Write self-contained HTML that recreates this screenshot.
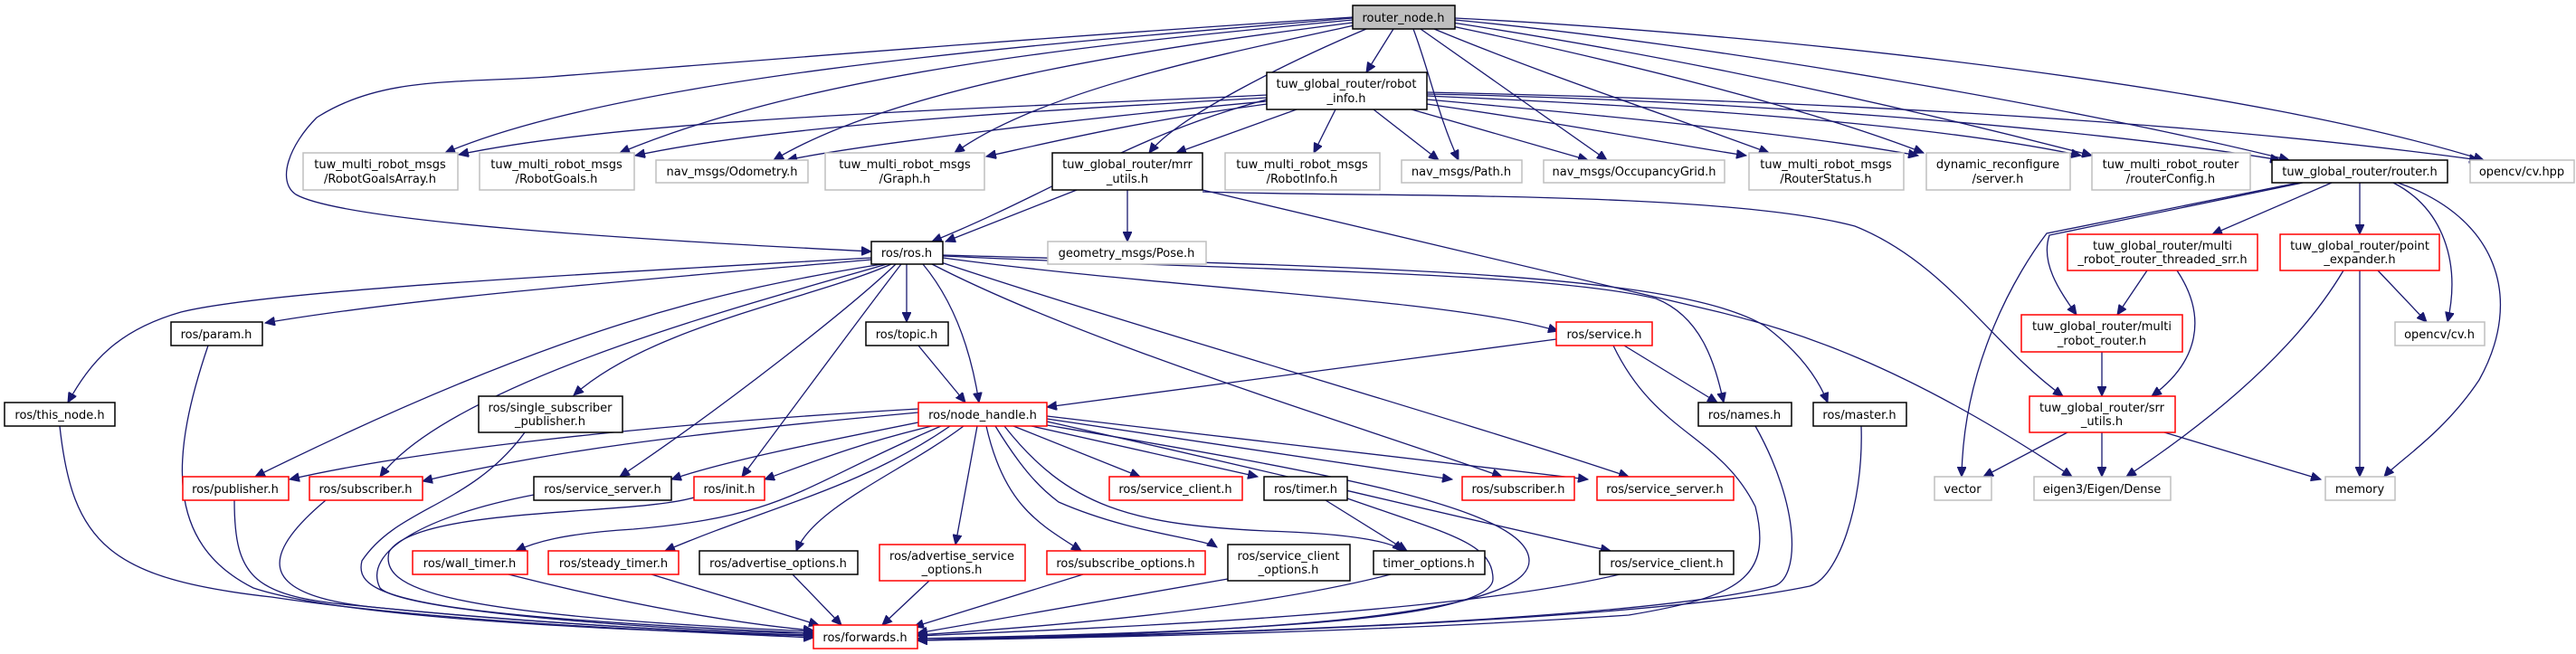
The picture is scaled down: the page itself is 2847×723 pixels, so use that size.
<!DOCTYPE html>
<html><head><meta charset="utf-8"><style>
html,body{margin:0;padding:0;background:#fff;}
svg{display:block;}
.e path{fill:none;stroke:#191970;stroke-width:1.3;}
text{font-family:"DejaVu Sans","Liberation Sans",sans-serif;font-size:13px;fill:#000;text-anchor:middle;}
.g{fill:#fff;stroke:#bfbfbf;stroke-width:1.5;}
.b{fill:#fff;stroke:#000;stroke-width:1.5;}
.r{fill:#fff;stroke:#ff0000;stroke-width:1.5;}
</style></head><body>
<svg width="2847" height="723" xmlns="http://www.w3.org/2000/svg">
<defs><marker id="a" markerUnits="userSpaceOnUse" markerWidth="12" markerHeight="10" refX="11" refY="5" orient="auto"><path d="M0,0 L11,5 L0,10 z" fill="#191970" stroke="#191970"/></marker></defs>
<g class="e">
<path marker-end="url(#a)" d="M1540,32 L1510,80"/>
<path marker-end="url(#a)" d="M1510,32 C1420,70 1300,130 1270,169"/>
<path marker-end="url(#a)" d="M1495,20 C1200,45 700,80 492,169"/>
<path marker-end="url(#a)" d="M1495,22 C1200,50 900,80 685,169"/>
<path marker-end="url(#a)" d="M1495,25 C1300,50 1000,90 855,177"/>
<path marker-end="url(#a)" d="M1497,28 C1350,60 1150,100 1055,169"/>
<path marker-end="url(#a)" d="M1495,19 C1100,45 800,70 606,85 C500,92 420,85 350,130 C320,160 305,200 327,215 C380,245 700,265 963,278"/>
<path marker-end="url(#a)" d="M1562,32 C1580,80 1590,130 1612,177"/>
<path marker-end="url(#a)" d="M1570,32 L1776,177"/>
<path marker-end="url(#a)" d="M1585,32 C1700,80 1850,130 1955,169"/>
<path marker-end="url(#a)" d="M1600,28 C1800,70 2000,120 2126,169"/>
<path marker-end="url(#a)" d="M1605,25 C1900,70 2150,130 2312,172"/>
<path marker-end="url(#a)" d="M1608,22 C1900,50 2300,120 2530,177"/>
<path marker-end="url(#a)" d="M1608,20 C2000,40 2500,100 2745,177"/>
<path marker-end="url(#a)" d="M1400,105 C1100,120 700,130 507,171"/>
<path marker-end="url(#a)" d="M1400,108 C1100,125 850,140 702,172"/>
<path marker-end="url(#a)" d="M1400,112 C1200,130 950,160 870,177"/>
<path marker-end="url(#a)" d="M1400,115 C1250,135 1150,160 1090,173"/>
<path marker-end="url(#a)" d="M1433,121 L1300,169"/>
<path marker-end="url(#a)" d="M1476,121 L1452,169"/>
<path marker-end="url(#a)" d="M1518,121 L1590,177"/>
<path marker-end="url(#a)" d="M1560,121 L1755,177"/>
<path marker-end="url(#a)" d="M1577,115 C1750,140 1850,160 1930,172"/>
<path marker-end="url(#a)" d="M1577,110 C1800,130 2000,150 2120,172"/>
<path marker-end="url(#a)" d="M1577,106 C1900,120 2150,140 2300,172"/>
<path marker-end="url(#a)" d="M1577,104 C1900,110 2300,140 2520,177"/>
<path marker-end="url(#a)" d="M1577,102 C1950,110 2400,130 2740,177"/>
<path marker-end="url(#a)" d="M1400,110 C1250,150 1170,210 1030,267"/>
<path marker-end="url(#a)" d="M1190,210 L1045,267"/>
<path marker-end="url(#a)" d="M1246,210 L1246,267"/>
<path marker-end="url(#a)" d="M1329,210 L1900,345 C1980,365 2100,400 2290,527"/>
<path marker-end="url(#a)" d="M1329,212 C1500,218 1900,210 2050,250 C2150,290 2200,380 2280,438"/>
<path marker-end="url(#a)" d="M2540,202 L2262,258 C2230,300 2170,400 2168,527"/>
<path marker-end="url(#a)" d="M2545,202 L2265,260 C2255,290 2275,320 2295,348"/>
<path marker-end="url(#a)" d="M2577,202 L2445,259"/>
<path marker-end="url(#a)" d="M2608,202 L2608,259"/>
<path marker-end="url(#a)" d="M2645,202 C2700,230 2720,290 2705,356"/>
<path marker-end="url(#a)" d="M2650,202 C2760,240 2790,330 2740,420 C2700,480 2650,510 2635,527"/>
<path marker-end="url(#a)" d="M2373,299 L2340,348"/>
<path marker-end="url(#a)" d="M2406,299 C2440,350 2430,400 2378,438"/>
<path marker-end="url(#a)" d="M2323,389 L2323,438"/>
<path marker-end="url(#a)" d="M2590,299 C2530,400 2420,480 2350,527"/>
<path marker-end="url(#a)" d="M2608,299 L2608,527"/>
<path marker-end="url(#a)" d="M2628,299 L2682,356"/>
<path marker-end="url(#a)" d="M2285,478 L2192,527"/>
<path marker-end="url(#a)" d="M2323,478 L2323,527"/>
<path marker-end="url(#a)" d="M2392,478 L2565,530"/>
<path marker-end="url(#a)" d="M963,285 C700,300 300,320 200,345 C130,365 100,400 75,445"/>
<path marker-end="url(#a)" d="M963,287 C700,310 450,330 293,357"/>
<path marker-end="url(#a)" d="M975,292 C800,320 620,360 282,527"/>
<path marker-end="url(#a)" d="M980,292 C850,330 500,420 420,527"/>
<path marker-end="url(#a)" d="M985,292 C900,330 720,360 634,437"/>
<path marker-end="url(#a)" d="M990,292 C940,340 800,450 685,527"/>
<path marker-end="url(#a)" d="M996,292 C955,345 900,420 820,527"/>
<path marker-end="url(#a)" d="M1002,292 L1002,356"/>
<path marker-end="url(#a)" d="M1020,292 C1060,340 1075,400 1082,445"/>
<path marker-end="url(#a)" d="M1042,285 C1300,320 1600,330 1722,366"/>
<path marker-end="url(#a)" d="M1030,292 C1200,380 1500,470 1660,527"/>
<path marker-end="url(#a)" d="M1040,290 C1250,360 1600,460 1800,527"/>
<path marker-end="url(#a)" d="M1042,283 C1400,300 1700,300 1830,330 C1880,350 1895,400 1905,445"/>
<path marker-end="url(#a)" d="M1042,282 C1500,295 1850,300 1950,360 C1990,390 2010,420 2020,445"/>
<path marker-end="url(#a)" d="M1015,382 L1067,445"/>
<path marker-end="url(#a)" d="M1720,375 L1157,450"/>
<path marker-end="url(#a)" d="M1795,382 L1898,445"/>
<path marker-end="url(#a)" d="M1783,382 C1830,480 1900,480 1940,560 C1960,640 1920,660 1800,680 C1500,700 1200,705 1014,708"/>
<path marker-end="url(#a)" d="M1015,452 C700,470 450,500 320,530"/>
<path marker-end="url(#a)" d="M1015,456 C750,480 600,500 467,532"/>
<path marker-end="url(#a)" d="M1020,466 C900,490 800,510 742,530"/>
<path marker-end="url(#a)" d="M1030,471 C950,490 900,510 845,530"/>
<path marker-end="url(#a)" d="M1040,471 C880,540 870,570 700,585 C620,590 590,600 570,609"/>
<path marker-end="url(#a)" d="M1050,471 C950,540 850,560 735,609"/>
<path marker-end="url(#a)" d="M1065,471 C1000,520 900,560 880,609"/>
<path marker-end="url(#a)" d="M1080,471 L1056,602"/>
<path marker-end="url(#a)" d="M1090,471 C1110,560 1150,580 1195,609"/>
<path marker-end="url(#a)" d="M1100,471 C1130,520 1150,540 1170,555 C1250,590 1330,595 1345,605"/>
<path marker-end="url(#a)" d="M1110,471 C1180,560 1250,580 1400,587 C1500,590 1540,600 1550,609"/>
<path marker-end="url(#a)" d="M1120,471 L1260,527"/>
<path marker-end="url(#a)" d="M1140,471 L1390,527"/>
<path marker-end="url(#a)" d="M1157,463 C1400,500 1500,515 1605,530"/>
<path marker-end="url(#a)" d="M1157,460 C1400,490 1600,510 1755,530"/>
<path marker-end="url(#a)" d="M1157,466 C1400,520 1600,570 1780,609"/>
<path marker-end="url(#a)" d="M1157,470 C1450,520 1690,560 1690,620 C1690,690 1300,700 1014,708"/>
<path marker-end="url(#a)" d="M1465,553 L1555,609"/>
<path marker-end="url(#a)" d="M1489,551 C1600,590 1650,600 1650,640 C1650,690 1300,700 1014,706"/>
<path marker-end="url(#a)" d="M66,471 C80,600 120,640 300,660 C500,690 800,700 899,705"/>
<path marker-end="url(#a)" d="M230,382 C190,500 180,600 280,650 C400,690 800,700 899,703"/>
<path marker-end="url(#a)" d="M259,553 C259,640 280,660 400,670 C600,690 800,700 899,703"/>
<path marker-end="url(#a)" d="M360,553 C280,620 290,660 420,672 C600,690 800,700 899,702"/>
<path marker-end="url(#a)" d="M580,478 C520,560 440,560 400,620 C390,660 450,680 899,700"/>
<path marker-end="url(#a)" d="M590,547 C470,570 400,610 420,650 C450,680 800,700 899,700"/>
<path marker-end="url(#a)" d="M767,550 C700,570 460,560 430,610 C420,650 480,680 899,698"/>
<path marker-end="url(#a)" d="M562,635 C700,670 820,690 899,697"/>
<path marker-end="url(#a)" d="M720,635 L905,691"/>
<path marker-end="url(#a)" d="M876,635 L930,691"/>
<path marker-end="url(#a)" d="M1027,642 L975,691"/>
<path marker-end="url(#a)" d="M1197,635 L1010,693"/>
<path marker-end="url(#a)" d="M1357,640 L1014,700"/>
<path marker-end="url(#a)" d="M1537,635 C1400,670 1200,690 1014,702"/>
<path marker-end="url(#a)" d="M1790,635 C1600,680 1200,695 1014,703"/>
<path marker-end="url(#a)" d="M1940,471 C1990,560 1990,640 1960,648 C1800,690 1200,705 1014,706"/>
<path marker-end="url(#a)" d="M2057,471 C2060,560 2030,640 2000,648 C1800,690 1200,705 1014,708"/>
</g>
<g>
<rect x="1495" y="6" width="113" height="26" fill="#bfbfbf" stroke="#000" stroke-width="1.5"/><text x="1551" y="24">router_node.h</text>
<rect class="b" x="1400" y="80" width="177" height="41"/><text x="1488" y="97">tuw_global_router/robot</text><text x="1488" y="113">_info.h</text>
<rect class="g" x="335" y="169" width="171" height="41"/><text x="420" y="186">tuw_multi_robot_msgs</text><text x="420" y="202">/RobotGoalsArray.h</text>
<rect class="g" x="530" y="169" width="171" height="41"/><text x="615" y="186">tuw_multi_robot_msgs</text><text x="615" y="202">/RobotGoals.h</text>
<rect class="g" x="725" y="177" width="168" height="25"/><text x="809" y="194">nav_msgs/Odometry.h</text>
<rect class="g" x="912" y="169" width="176" height="41"/><text x="1000" y="186">tuw_multi_robot_msgs</text><text x="1000" y="202">/Graph.h</text>
<rect class="b" x="1163" y="169" width="166" height="41"/><text x="1246" y="186">tuw_global_router/mrr</text><text x="1246" y="202">_utils.h</text>
<rect class="g" x="1354" y="169" width="171" height="41"/><text x="1439" y="186">tuw_multi_robot_msgs</text><text x="1439" y="202">/RobotInfo.h</text>
<rect class="g" x="1549" y="177" width="133" height="25"/><text x="1615" y="194">nav_msgs/Path.h</text>
<rect class="g" x="1706" y="177" width="200" height="25"/><text x="1806" y="194">nav_msgs/OccupancyGrid.h</text>
<rect class="g" x="1933" y="169" width="171" height="41"/><text x="2018" y="186">tuw_multi_robot_msgs</text><text x="2018" y="202">/RouterStatus.h</text>
<rect class="g" x="2129" y="169" width="159" height="41"/><text x="2208" y="186">dynamic_reconfigure</text><text x="2208" y="202">/server.h</text>
<rect class="g" x="2312" y="169" width="175" height="41"/><text x="2399" y="186">tuw_multi_robot_router</text><text x="2399" y="202">/routerConfig.h</text>
<rect class="b" x="2511" y="177" width="194" height="25"/><text x="2608" y="194">tuw_global_router/router.h</text>
<rect class="g" x="2730" y="177" width="115" height="25"/><text x="2787" y="194">opencv/cv.hpp</text>
<rect class="b" x="963" y="267" width="79" height="25"/><text x="1002" y="284">ros/ros.h</text>
<rect class="g" x="1158" y="267" width="175" height="25"/><text x="1245" y="284">geometry_msgs/Pose.h</text>
<rect class="r" x="2285" y="259" width="210" height="40"/><text x="2390" y="276">tuw_global_router/multi</text><text x="2390" y="291">_robot_router_threaded_srr.h</text>
<rect class="r" x="2520" y="259" width="176" height="40"/><text x="2608" y="276">tuw_global_router/point</text><text x="2608" y="291">_expander.h</text>
<rect class="b" x="189" y="356" width="101" height="26"/><text x="239" y="374">ros/param.h</text>
<rect class="b" x="957" y="356" width="91" height="26"/><text x="1002" y="374">ros/topic.h</text>
<rect class="r" x="1720" y="356" width="106" height="26"/><text x="1773" y="374">ros/service.h</text>
<rect class="r" x="2234" y="348" width="178" height="41"/><text x="2323" y="365">tuw_global_router/multi</text><text x="2323" y="381">_robot_router.h</text>
<rect class="g" x="2647" y="356" width="99" height="26"/><text x="2696" y="374">opencv/cv.h</text>
<rect class="b" x="5" y="445" width="122" height="26"/><text x="66" y="463">ros/this_node.h</text>
<rect class="b" x="529" y="438" width="159" height="40"/><text x="608" y="455">ros/single_subscriber</text><text x="608" y="470">_publisher.h</text>
<rect class="r" x="1015" y="445" width="142" height="26"/><text x="1086" y="463">ros/node_handle.h</text>
<rect class="b" x="1877" y="445" width="103" height="26"/><text x="1928" y="463">ros/names.h</text>
<rect class="b" x="2004" y="445" width="103" height="26"/><text x="2055" y="463">ros/master.h</text>
<rect class="r" x="2243" y="438" width="161" height="40"/><text x="2323" y="455">tuw_global_router/srr</text><text x="2323" y="470">_utils.h</text>
<rect class="r" x="202" y="527" width="117" height="26"/><text x="260" y="545">ros/publisher.h</text>
<rect class="r" x="342" y="527" width="125" height="26"/><text x="404" y="545">ros/subscriber.h</text>
<rect class="b" x="590" y="527" width="152" height="26"/><text x="666" y="545">ros/service_server.h</text>
<rect class="r" x="767" y="527" width="78" height="26"/><text x="806" y="545">ros/init.h</text>
<rect class="r" x="1226" y="527" width="147" height="26"/><text x="1299" y="545">ros/service_client.h</text>
<rect class="b" x="1397" y="527" width="92" height="26"/><text x="1443" y="545">ros/timer.h</text>
<rect class="r" x="1616" y="527" width="124" height="26"/><text x="1678" y="545">ros/subscriber.h</text>
<rect class="r" x="1765" y="527" width="151" height="26"/><text x="1840" y="545">ros/service_server.h</text>
<rect class="g" x="2138" y="527" width="63" height="26"/><text x="2169" y="545">vector</text>
<rect class="g" x="2248" y="527" width="151" height="26"/><text x="2323" y="545">eigen3/Eigen/Dense</text>
<rect class="g" x="2570" y="527" width="77" height="26"/><text x="2608" y="545">memory</text>
<rect class="r" x="456" y="609" width="127" height="26"/><text x="519" y="627">ros/wall_timer.h</text>
<rect class="r" x="606" y="609" width="144" height="26"/><text x="678" y="627">ros/steady_timer.h</text>
<rect class="b" x="773" y="609" width="175" height="26"/><text x="860" y="627">ros/advertise_options.h</text>
<rect class="r" x="972" y="602" width="161" height="40"/><text x="1052" y="619">ros/advertise_service</text><text x="1052" y="634">_options.h</text>
<rect class="r" x="1157" y="609" width="175" height="26"/><text x="1244" y="627">ros/subscribe_options.h</text>
<rect class="b" x="1357" y="602" width="135" height="40"/><text x="1424" y="619">ros/service_client</text><text x="1424" y="634">_options.h</text>
<rect class="b" x="1518" y="609" width="123" height="26"/><text x="1579" y="627">timer_options.h</text>
<rect class="b" x="1768" y="609" width="148" height="26"/><text x="1842" y="627">ros/service_client.h</text>
<rect class="r" x="899" y="691" width="115" height="26"/><text x="956" y="709">ros/forwards.h</text>
</g>
</svg>
</body></html>
